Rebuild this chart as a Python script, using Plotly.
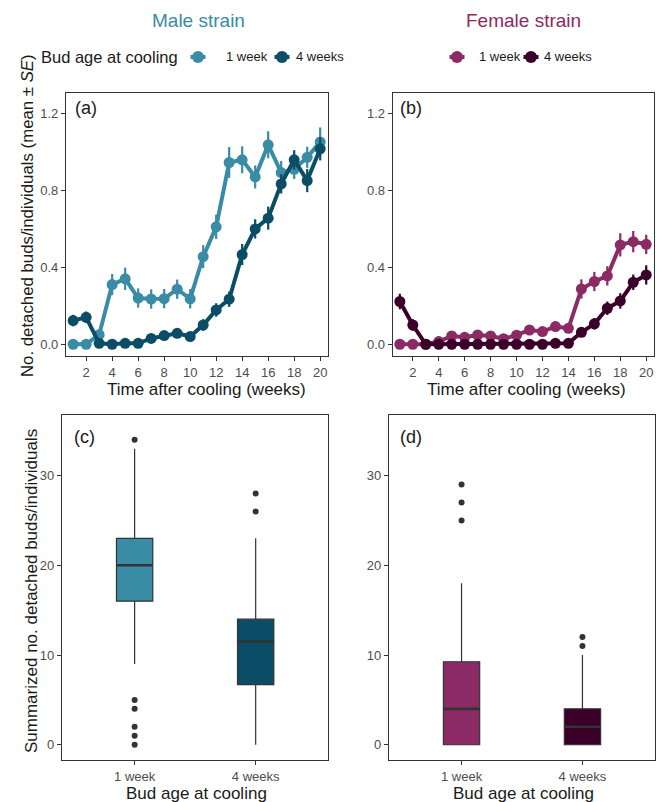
import plotly.graph_objects as go

W, H = 660, 802

weeks = list(range(1, 21))
male_1wk = [0.0, 0.0, 0.05, 0.31, 0.34, 0.24, 0.235, 0.237, 0.286, 0.236,
            0.455, 0.61, 0.944, 0.958, 0.869, 1.036, 0.892, 0.909, 0.971, 1.051]
male_1wk_se = [0.0, 0.0, 0.02, 0.055, 0.058, 0.05, 0.05, 0.05, 0.05, 0.05,
               0.06, 0.063, 0.08, 0.07, 0.06, 0.07, 0.06, 0.05, 0.055, 0.075]
male_4wk = [0.123, 0.14, 0.005, 0.0, 0.005, 0.005, 0.03, 0.045, 0.057, 0.04,
            0.10, 0.178, 0.234, 0.466, 0.599, 0.655, 0.833, 0.958, 0.85, 1.015]
male_4wk_se = [0.03, 0.03, 0.01, 0.01, 0.01, 0.01, 0.015, 0.015, 0.02, 0.02,
               0.03, 0.035, 0.04, 0.055, 0.05, 0.06, 0.05, 0.05, 0.06, 0.06]
fem_1wk = [0.0, 0.0, 0.0, 0.014, 0.043, 0.036, 0.048, 0.043, 0.029, 0.047,
           0.074, 0.066, 0.092, 0.083, 0.287, 0.326, 0.355, 0.516, 0.533, 0.519]
fem_1wk_se = [0.0, 0.0, 0.0, 0.01, 0.02, 0.02, 0.02, 0.02, 0.02, 0.02,
              0.025, 0.02, 0.025, 0.025, 0.05, 0.05, 0.05, 0.06, 0.055, 0.05]
fem_4wk = [0.222, 0.10, 0.0, 0.0, 0.0, 0.0, 0.0, 0.0, 0.0, 0.0,
           0.0, 0.0, 0.005, 0.005, 0.062, 0.106, 0.187, 0.225, 0.322, 0.36]
fem_4wk_se = [0.04, 0.03, 0.0, 0.0, 0.0, 0.0, 0.0, 0.0, 0.0, 0.0,
              0.0, 0.0, 0.005, 0.005, 0.02, 0.03, 0.035, 0.04, 0.04, 0.05]

groups = ["1 week", "4 weeks"]
group_pos = [0, 1]
# box stats: q1, median, q3, lower whisker, upper whisker, outliers
male_q1 = [16, 6.7]
male_med = [20, 11.5]
male_q3 = [23, 14]
male_lo = [9, 0]
male_hi = [33, 23]
male_out = [[34, 5, 4, 2, 1, 0], [28, 26]]
fem_q1 = [0, 0]
fem_med = [4, 2]
fem_q3 = [9.25, 4]
fem_lo = [0, 0]
fem_hi = [18, 10]
fem_out = [[29, 27, 25], [12, 11]]

C_M1 = "#3a8ba6"
C_M4 = "#0b4c66"
C_F1 = "#8b2a64"
C_F4 = "#3b0029"
FONT = "Liberation Sans, Arial, sans-serif"


def px(x):
    return x / W


def py(y):
    return 1 - y / H


fig = go.Figure()


def add_series(x, y, se, color, xa, ya):
    fig.add_trace(go.Scatter(
        x=x, y=y, mode="lines+markers", xaxis=xa, yaxis=ya,
        line=dict(color=color, width=4),
        marker=dict(color=color, size=11),
        error_y=dict(type="data", array=se, visible=True, color=color,
                     thickness=2.2, width=0),
        showlegend=False, hoverinfo="x+y"))


add_series(weeks, male_1wk, male_1wk_se, C_M1, "x", "y")
add_series(weeks, male_4wk, male_4wk_se, C_M4, "x", "y")
add_series(weeks, fem_1wk, fem_1wk_se, C_F1, "x2", "y2")
add_series(weeks, fem_4wk, fem_4wk_se, C_F4, "x2", "y2")

BW = 0.3


def add_boxes(q1, med, q3, lo, hi, outs, colors, xa, ya):
    for i in range(2):
        fig.add_trace(go.Box(
            x=[group_pos[i]], q1=[q1[i]], median=[med[i]], q3=[q3[i]],
            lowerfence=[lo[i]], upperfence=[hi[i]],
            width=BW, whiskerwidth=0, fillcolor=colors[i],
            line=dict(color="#333333", width=1.2), boxpoints=False,
            xaxis=xa, yaxis=ya, showlegend=False))
        fig.add_trace(go.Scatter(
            x=[group_pos[i] - BW / 2, group_pos[i] + BW / 2],
            y=[med[i], med[i]], mode="lines",
            line=dict(color="#333333", width=2.6),
            xaxis=xa, yaxis=ya, showlegend=False, hoverinfo="skip"))
        fig.add_trace(go.Scatter(
            x=[group_pos[i]] * len(outs[i]), y=outs[i], mode="markers",
            marker=dict(color="#333333", size=6),
            xaxis=xa, yaxis=ya, showlegend=False))


add_boxes(male_q1, male_med, male_q3, male_lo, male_hi, male_out,
          [C_M1, C_M4], "x3", "y3")
add_boxes(fem_q1, fem_med, fem_q3, fem_lo, fem_hi, fem_out,
          [C_F1, C_F4], "x4", "y4")

axis_common = dict(showline=True, mirror=True, linecolor="#333333",
                   linewidth=1.2, ticks="outside", ticklen=4,
                   tickcolor="#333333", tickwidth=1, showgrid=False,
                   zeroline=False,
                   tickfont=dict(family=FONT, size=13, color="#4d4d4d"))

top_y = [py(356), py(93)]
bot_y = [py(760), py(415)]

fig.update_layout(
    width=W, height=H,
    margin=dict(l=0, r=0, t=0, b=0),
    paper_bgcolor="white", plot_bgcolor="white",
    font=dict(family=FONT, color="#1a1a1a"),
    showlegend=False,
    xaxis=dict(domain=[px(66), px(328)], range=[0.45, 20.6],
               tickvals=list(range(2, 21, 2)), anchor="y", **axis_common),
    yaxis=dict(domain=top_y, range=[-0.061, 1.305],
               tickvals=[0, 0.4, 0.8, 1.2], tickformat=".1f", anchor="x",
               **axis_common),
    xaxis2=dict(domain=[px(392.7), px(654)], range=[0.45, 20.6],
                tickvals=list(range(2, 21, 2)), anchor="y2", **axis_common),
    yaxis2=dict(domain=top_y, range=[-0.061, 1.305],
                tickvals=[0, 0.4, 0.8, 1.2], tickformat=".1f", anchor="x2",
                **axis_common),
    xaxis3=dict(domain=[px(62), px(328.3)], range=[-0.6, 1.6],
                tickvals=group_pos, ticktext=groups, anchor="y3",
                **axis_common),
    yaxis3=dict(domain=bot_y, range=[-1.7, 36.75], tickvals=[0, 10, 20, 30],
                anchor="x3", **axis_common),
    xaxis4=dict(domain=[px(389), px(655)], range=[-0.6, 1.6],
                tickvals=group_pos, ticktext=groups, anchor="y4",
                **axis_common),
    yaxis4=dict(domain=bot_y, range=[-1.7, 36.75], tickvals=[0, 10, 20, 30],
                anchor="x4", **axis_common),
)

ann = []


def text(x, y, s, size, color="#1a1a1a", xanchor="center", angle=0):
    ann.append(dict(x=px(x), y=py(y), xref="paper", yref="paper", text=s,
                    showarrow=False, xanchor=xanchor, yanchor="middle",
                    textangle=angle, borderpad=0,
                    font=dict(family=FONT, size=size, color=color)))


text(198, 20, "Male strain", 19, C_M1)
text(523, 20, "Female strain", 19, C_F1)
text(40, 57, "Bud age at cooling", 16.5, xanchor="left")
text(225, 57, "1 week", 13, xanchor="left")
text(295, 57, "4 weeks", 13, xanchor="left")
text(478, 57, "1 week", 13, xanchor="left")
text(543, 57, "4 weeks", 13, xanchor="left")
text(74, 108, "(a)", 18, xanchor="left")
text(399, 108, "(b)", 18, xanchor="left")
text(73, 437, "(c)", 18, xanchor="left")
text(399, 437, "(d)", 18, xanchor="left")
text(206, 389, "Time after cooling (weeks)", 17)
text(526, 389, "Time after cooling (weeks)", 17)
text(196, 793, "Bud age at cooling", 17)
text(523, 793, "Bud age at cooling", 17)
text(27, 216, "No. detached buds/individuals (mean ± <i>SE</i>)", 16.8, angle=-90)
text(31, 591, "Summarized no. detached buds/individuals", 17, angle=-90)

shapes = []
for kx, col in [(198, C_M1), (282, C_M4), (457, C_F1), (531, C_F4)]:
    shapes.append(dict(type="line", xref="paper", yref="paper",
                       x0=px(kx - 7.5), x1=px(kx + 7.5), y0=py(57), y1=py(57),
                       line=dict(color=col, width=4)))
    shapes.append(dict(type="circle", xref="paper", yref="paper",
                       x0=px(kx - 6), x1=px(kx + 6),
                       y0=py(57 + 6), y1=py(57 - 6),
                       fillcolor=col, line=dict(color=col, width=0)))

fig.update_layout(annotations=ann, shapes=shapes)

fig.write_html("out.html", include_plotlyjs=True,
               config={"displayModeBar": False},
               post_script="document.body.style.margin='0';")
